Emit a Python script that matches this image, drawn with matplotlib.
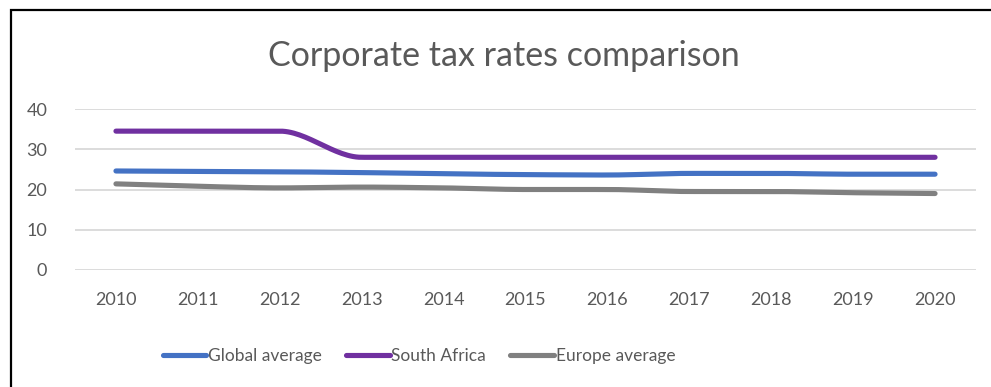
import numpy as np
import matplotlib.pyplot as plt
from matplotlib.patches import Rectangle

years = [2010, 2011, 2012, 2013, 2014, 2015, 2016, 2017, 2018, 2019, 2020]
global_avg = [24.6, 24.5, 24.4, 24.2, 23.9, 23.7, 23.6, 24.0, 24.0, 23.8, 23.8]
south_africa = [34.5, 34.5, 34.5, 28.0, 28.0, 28.0, 28.0, 28.0, 28.0, 28.0, 28.0]
europe_avg = [21.4, 20.8, 20.4, 20.6, 20.4, 20.0, 20.0, 19.5, 19.5, 19.2, 19.0]

series = [
    ('Global average', global_avg, '#4472C4'),
    ('South Africa', south_africa, '#7030A0'),
    ('Europe average', europe_avg, '#808080'),
]


def smooth(x, y, steps=30):
    # cubic hermite through the points, tangents clamped so flat runs don't overshoot
    x = np.asarray(x, float)
    y = np.asarray(y, float)
    n = len(x)
    d = np.diff(y) / np.diff(x)
    m = np.zeros(n)
    m[0], m[-1] = d[0], d[-1]
    for i in range(1, n - 1):
        if d[i - 1] * d[i] > 0:
            m[i] = 2 / (1 / d[i - 1] + 1 / d[i])
    xs, ys = [], []
    t = np.linspace(0, 1, steps)
    for i in range(n - 1):
        h = x[i + 1] - x[i]
        h00 = 2 * t ** 3 - 3 * t ** 2 + 1
        h10 = t ** 3 - 2 * t ** 2 + t
        h01 = -2 * t ** 3 + 3 * t ** 2
        h11 = t ** 3 - t ** 2
        xs.extend(x[i] + t * h)
        ys.extend(h00 * y[i] + h10 * h * m[i] + h01 * y[i + 1] + h11 * h * m[i + 1])
    return xs, ys


text_color = '#595959'
plt.rcParams['font.family'] = ['Lato', 'DejaVu Sans']

fig = plt.figure(figsize=(9.91, 3.87), dpi=100)
ax = fig.add_axes([75 / 991, 1 - 270 / 387, 901 / 991, 161 / 387])

idx = np.arange(len(years))
for name, vals, color in series:
    sx, sy = smooth(idx, vals)
    ax.plot(sx, sy, color=color, lw=3.7, solid_capstyle='round', label=name)

ax.set_xlim(-0.5, len(years) - 0.5)
ax.set_ylim(0, 40)
ax.set_yticks([0, 10, 20, 30, 40])
ax.set_xticks(idx)
ax.set_xticklabels([str(y) for y in years])
ax.grid(axis='y', color='#D9D9D9', lw=1.3)
ax.set_axisbelow(True)
for s in ax.spines.values():
    s.set_visible(False)
ax.tick_params(length=0, colors=text_color, labelsize=13, pad=16)
ax.tick_params(axis='y', pad=20)

fig.text(0.508, 1 - 56 / 387, 'Corporate tax rates comparison', ha='center', va='center',
         fontsize=24.5, color=text_color)

leg = fig.legend(loc='center', bbox_to_anchor=(419 / 991, 1 - 356 / 387), ncol=3, frameon=False,
                 fontsize=12.5, handlelength=2.5, handletextpad=0.1, columnspacing=1.4)
for txt in leg.get_texts():
    txt.set_color(text_color)

# outer frame of the chart box
fig.patches.append(Rectangle((11 / 991, -0.1), 1.2, 1 - 10 / 387 + 0.1, transform=fig.transFigure,
                             fill=False, edgecolor='black', lw=1.6))

fig.savefig('out.png', dpi=100)
